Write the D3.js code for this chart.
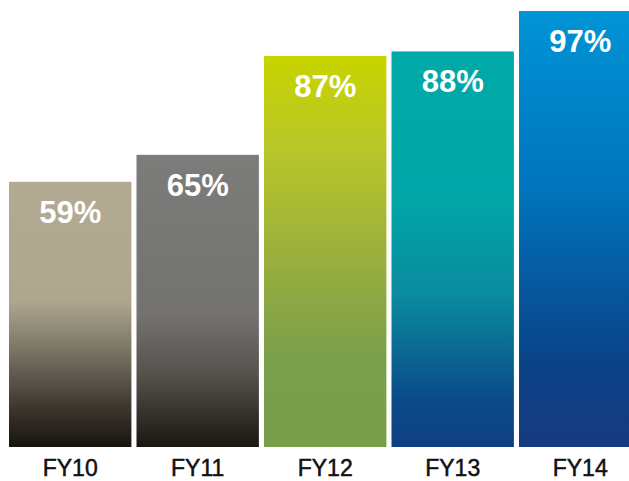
<!DOCTYPE html>
<html>
<head>
<meta charset="utf-8">
<script src="https://cdn.jsdelivr.net/npm/d3@7"></script>
<style>
  html, body { margin: 0; padding: 0; background: #fff; }
  svg { display: block; }
</style>
</head>
<body>
<div id="chart"></div>
<script>
// Chart data
const years = ['FY10', 'FY11', 'FY12', 'FY13', 'FY14'];
const values = [59, 65, 87, 88, 97];
const labels = ['59%', '65%', '87%', '88%', '97%'];

// gradient stops per bar (top -> bottom)
const gradients = [
  [[0, '#b2aa93'], [0.45, '#aea68e'], [0.65, '#767062'], [0.85, '#3d372f'], [1, '#16130f']],
  [[0, '#7c7c7a'], [0.55, '#737270'], [0.75, '#56524d'], [1, '#1a1713']],
  [[0, '#c9d400'], [0.25, '#b7c52a'], [0.5, '#9cb03b'], [0.75, '#7da04a'], [1, '#779e4b']],
  [[0, '#00a9a8'], [0.38, '#00a6a7'], [0.62, '#0a8a9e'], [0.88, '#0a4b8a'], [1, '#0f3f82']],
  [[0, '#0094d6'], [0.4, '#0075bd'], [0.8, '#0a4388'], [1, '#163a7f']]
];

const width = 629, height = 481;
const svg = d3.select('#chart').append('svg')
  .attr('width', width)
  .attr('height', height);

const x = d3.scaleBand()
  .domain(years)
  .range([9, 641.4])
  .paddingInner(0.04)
  .paddingOuter(0);

const y = d3.scaleLinear()
  .domain([0, 97])
  .range([447, 11]);

const defs = svg.append('defs');
gradients.forEach((stops, i) => {
  const g = defs.append('linearGradient')
    .attr('id', 'grad' + i)
    .attr('x1', 0).attr('y1', 0)
    .attr('x2', 0).attr('y2', 1);
  stops.forEach(s => {
    g.append('stop').attr('offset', s[0]).attr('stop-color', s[1]);
  });
});

svg.selectAll('rect.bar')
  .data(values)
  .join('rect')
  .attr('class', 'bar')
  .attr('x', (d, i) => x(years[i]))
  .attr('y', d => y(d))
  .attr('width', x.bandwidth())
  .attr('height', d => y(0) - y(d))
  .attr('fill', (d, i) => `url(#grad${i})`);

// value labels inside bars
svg.selectAll('text.val')
  .data(values)
  .join('text')
  .attr('class', 'val')
  .attr('x', (d, i) => x(years[i]) + x.bandwidth() / 2)
  .attr('y', d => y(d) + 41)
  .attr('text-anchor', 'middle')
  .attr('font-family', 'Liberation Sans, Arial, sans-serif')
  .attr('font-weight', 'bold')
  .attr('font-size', 31)
  .attr('fill', '#fff')
  .text((d, i) => labels[i]);

// category labels
svg.selectAll('text.cat')
  .data(years)
  .join('text')
  .attr('class', 'cat')
  .attr('x', d => x(d) + x.bandwidth() / 2)
  .attr('y', 476)
  .attr('text-anchor', 'middle')
  .attr('font-family', 'Liberation Sans, Arial, sans-serif')
  .attr('font-size', 23)
  .attr('fill', '#111')
  .attr('stroke', '#111')
  .attr('stroke-width', 0.5)
  .text(d => d);
</script>
</body>
</html>
